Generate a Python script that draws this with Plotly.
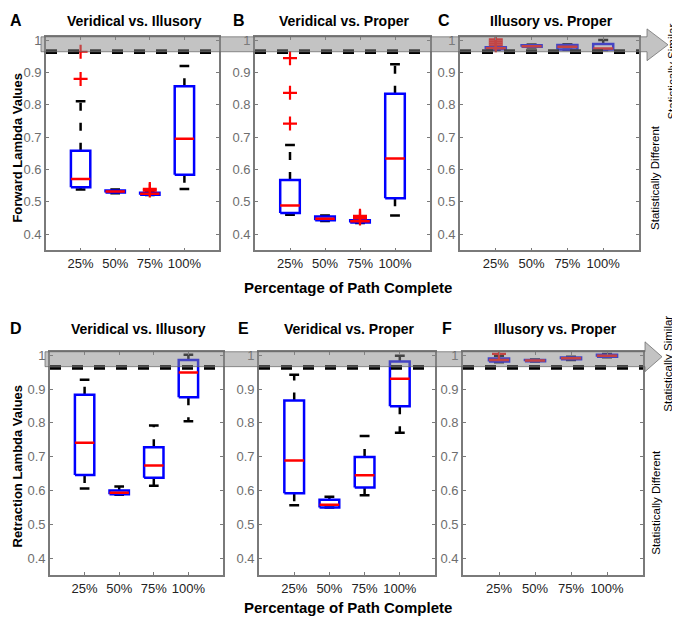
import plotly.graph_objects as go

# ---------------------------------------------------------------
# data (box stats per % of path complete)
# ---------------------------------------------------------------
categories = ["25%", "50%", "75%", "100%"]
cat_pos = [1, 2, 3, 4]

# A - forward, veridical vs illusory
a_q1 = [0.545, 0.529, 0.522, 0.584]
a_med = [0.571, 0.532, 0.525, 0.695]
a_q3 = [0.658, 0.535, 0.528, 0.857]
a_lo = [0.538, 0.527, 0.521, 0.540]
a_hi = [0.811, 0.538, 0.530, 0.920]
a_out = [[0.880, 0.964], [], [0.535, 0.540], []]

# B - forward, veridical vs proper
b_q1 = [0.466, 0.443, 0.436, 0.511]
b_med = [0.489, 0.448, 0.440, 0.634]
b_q3 = [0.568, 0.455, 0.443, 0.834]
b_lo = [0.460, 0.441, 0.435, 0.458]
b_hi = [0.676, 0.458, 0.446, 0.925]
b_out = [[0.742, 0.837, 0.944], [], [0.449, 0.453, 0.457], []]

# C - forward, illusory vs proper
c_q1 = [0.972, 0.979, 0.971, 0.971]
c_med = [0.975, 0.981, 0.979, 0.974]
c_q3 = [0.978, 0.984, 0.985, 0.988]
c_lo = [0.970, 0.977, 0.970, 0.969]
c_hi = [0.981, 0.986, 0.987, 1.000]
c_out = [[0.984, 0.990, 0.996, 1.002], [], [], []]

# D - retraction, veridical vs illusory
d_q1 = [0.646, 0.589, 0.638, 0.876]
d_med = [0.741, 0.594, 0.674, 0.949]
d_q3 = [0.883, 0.600, 0.728, 0.986]
d_lo = [0.606, 0.588, 0.614, 0.805]
d_hi = [0.927, 0.612, 0.792, 1.001]
d_out = [[], [], [], []]

# E - retraction, veridical vs proper
e_q1 = [0.592, 0.550, 0.609, 0.849]
e_med = [0.689, 0.558, 0.645, 0.930]
e_q3 = [0.866, 0.573, 0.699, 0.981]
e_lo = [0.557, 0.550, 0.586, 0.771]
e_hi = [0.942, 0.582, 0.761, 0.998]
e_out = [[], [], [], []]

# F - retraction, illusory vs proper
f_q1 = [0.981, 0.982, 0.988, 0.995]
f_med = [0.986, 0.984, 0.991, 0.998]
f_q3 = [0.990, 0.986, 0.993, 1.001]
f_lo = [0.979, 0.981, 0.986, 0.994]
f_hi = [0.998, 0.987, 0.995, 1.003]
f_out = [[1.004], [], [], []]

threshold = [0.9605, 0.9675]
y_range = [0.35, 1.01]
y_ticks = [0.4, 0.5, 0.6, 0.7, 0.8, 0.9, 1]
y_ticktext = ["0.4", "0.5", "0.6", "0.7", "0.8", "0.9", "1"]

panels = [
    ("A", "Veridical vs. Illusory", a_q1, a_med, a_q3, a_lo, a_hi, a_out),
    ("B", "Veridical vs. Proper", b_q1, b_med, b_q3, b_lo, b_hi, b_out),
    ("C", "Illusory vs. Proper", c_q1, c_med, c_q3, c_lo, c_hi, c_out),
    ("D", "Veridical vs. Illusory", d_q1, d_med, d_q3, d_lo, d_hi, d_out),
    ("E", "Veridical vs. Proper", e_q1, e_med, e_q3, e_lo, e_hi, e_out),
    ("F", "Illusory vs. Proper", f_q1, f_med, f_q3, f_lo, f_hi, f_out),
]

# the page body keeps an 8px margin, so the figure is drawn 8px smaller
OFF = 8
W, H = 680 - OFF, 617 - OFF
# panel boxes in window pixels: left, right, top, bottom
boxes = [
    (46, 219, 33, 248), (255, 430, 33, 248), (460, 639, 33, 248),
    (50, 223, 350, 575), (259, 435, 350, 575), (463, 643, 350, 575),
]


def px(x):
    return (x - OFF) / W


def py(y):
    return 1 - (y - OFF) / H


FONT = "Liberation Sans, Arial, sans-serif"
BW = 0.28   # half box width
CW = 0.14   # half cap width


def note(text, x, y, size, angle=0, xanchor="center"):
    return dict(text=text, x=px(x), y=py(y), xref="paper", yref="paper",
                showarrow=False, textangle=angle, xanchor=xanchor, yanchor="middle",
                font=dict(size=size, family=FONT, color="black"))


fig = go.Figure()
layout = dict(
    width=W, height=H,
    margin=dict(l=0, r=0, t=0, b=0),
    paper_bgcolor="white", plot_bgcolor="white",
    showlegend=False,
    font=dict(family=FONT, size=13, color="black"),
)
shapes = []
annotations = []

for i, (letter, title, q1, med, q3, lo, hi, out) in enumerate(panels):
    n = "" if i == 0 else str(i + 1)
    xa, ya = "x" + n, "y" + n
    l, r, t, b = boxes[i]

    bx, by, mx, my, wx, wy, kx, ky, ox, oy = [], [], [], [], [], [], [], [], [], []
    for c, a1, m, a3, w0, w1, o in zip(cat_pos, q1, med, q3, lo, hi, out):
        bx += [c - BW, c + BW, c + BW, c - BW, c - BW, None]
        by += [a1, a1, a3, a3, a1, None]
        mx += [c - BW, c + BW, None]
        my += [m, m, None]
        wx += [c, c, None, c, c, None]
        wy += [a3, w1, None, a1, w0, None]
        kx += [c - CW, c + CW, None, c - CW, c + CW, None]
        ky += [w1, w1, None, w0, w0, None]
        ox += [c] * len(o)
        oy += o

    common = dict(xaxis=xa, yaxis=ya, hoverinfo="skip")
    fig.add_trace(go.Scatter(x=wx, y=wy, mode="lines",
                             line=dict(color="black", width=2.5, dash="8px,12px"), **common))
    fig.add_trace(go.Scatter(x=kx, y=ky, mode="lines",
                             line=dict(color="black", width=2.5), **common))
    fig.add_trace(go.Scatter(x=bx, y=by, mode="lines",
                             line=dict(color="#0000ff", width=2.5), **common))
    fig.add_trace(go.Scatter(x=mx, y=my, mode="lines",
                             line=dict(color="#ff0000", width=2.5), **common))
    fig.add_trace(go.Scatter(x=ox, y=oy, mode="markers",
                             marker=dict(symbol="cross-thin", size=10, color="red",
                                         line=dict(color="red", width=2.2)), **common))

    axis_style = dict(showline=True, linecolor="#7a7a7a", linewidth=1.6, mirror="ticks",
                      ticks="inside", ticklen=3, tickcolor="#7a7a7a", showgrid=False,
                      zeroline=False)
    layout["xaxis" + n] = dict(domain=[px(l), px(r)], range=[0, 5], anchor=ya,
                               tickvals=cat_pos, ticktext=categories,
                               tickfont=dict(size=13, color="#222222", family=FONT),
                               **axis_style)
    layout["yaxis" + n] = dict(domain=[py(b), py(t)], range=y_range, anchor=xa,
                               tickvals=y_ticks, ticktext=y_ticktext,
                               tickfont=dict(size=13, color="#6e6e6e", family=FONT),
                               **axis_style)

    # double dashed significance threshold
    for th in threshold:
        shapes.append(dict(type="line", xref=xa + " domain", yref=ya, x0=0, x1=1,
                           y0=th, y1=th, layer="above",
                           line=dict(color="black", width=2.5, dash="11px,11px")))

    # panel letter and title (kept inside the drawable area)
    ty = max(t - 23, 17)
    if i % 3 == 0:
        annotations.append(note("<b>%s</b>" % letter, 8, ty, 16, xanchor="left"))
    else:
        annotations.append(note("<b>%s</b>" % letter, l - 16, ty, 16))
    annotations.append(note("<b>%s</b>" % title, (l + r) / 2 + 2, ty, 14))

# grey "statistically similar" band with arrow, one per row
# (left, top, bottom, head base, tip, head top, head bottom) in window pixels
for (l0, t0, b0, xb, xt, ht, hb) in [(41, 33, 48, 647, 668, 25, 57),
                                      (45, 350, 365, 645, 662, 340, 370)]:
    mid = (ht + hb) / 2
    path = "M %f %f L %f %f L %f %f L %f %f L %f %f L %f %f L %f %f Z" % (
        px(l0), py(t0), px(xb), py(t0), px(xb), py(ht),
        px(xt), py(mid), px(xb), py(hb), px(xb), py(b0),
        px(l0), py(b0))
    shapes.append(dict(type="path", xref="paper", yref="paper", path=path, layer="above",
                       fillcolor="rgba(135,135,135,0.5)",
                       line=dict(color="rgba(100,100,100,0.7)", width=1)))

# side labels
for (xs, ys, xd, yd) in [(672, 68, 655, 175), (668, 362, 656, 502)]:
    annotations.append(note("Statistically Similar", xs, ys, 11.5, angle=-90))
    annotations.append(note("Statistically Different", xd, yd, 11.5, angle=-90))

# axis titles
for yy in [285, 607]:
    annotations.append(note("<b>Percentage of Path Complete</b>", 348, yy, 15))
annotations.append(note("<b>Forward Lambda Values</b>", 8, 145, 13, angle=-90,
                        xanchor="left"))
annotations.append(note("<b>Retraction Lambda Values</b>", 8, 465, 13, angle=-90,
                        xanchor="left"))

layout["shapes"] = shapes
layout["annotations"] = annotations
fig.update_layout(**layout)

fig.write_html("out.html")
